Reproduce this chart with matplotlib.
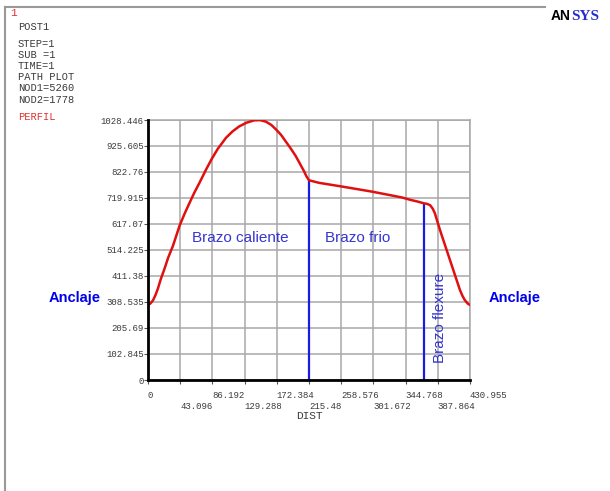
import matplotlib.pyplot as plt
import numpy as np

# path plot data
dist = [0, 3, 6.7, 10, 13.3, 17, 22.2, 27, 33.3, 38, 42.2, 49, 55.5, 62,
        68.9, 77.8, 85.8, 93.3, 104.4, 113, 122, 132, 142, 150, 157.7, 165,
        171, 178, 184, 191, 197.7, 204, 208.8, 212, 215.48, 228.8, 260, 300,
        340, 350.6, 362, 369, 373, 377.4, 381, 384, 390.8, 399.7, 408.6,
        417.5, 421, 424, 428, 430.955]
perfil = [298, 302, 315, 336, 362, 398, 441, 484, 530, 572, 610, 658, 700,
          741, 780, 833, 877, 914, 958, 983, 1003, 1018, 1027, 1028, 1022,
          1009, 992, 970, 945, 916, 886, 852, 826, 806, 790, 780, 765, 745,
          722, 713, 705, 699, 697, 692, 678, 659, 593, 514, 435, 356, 332,
          316, 302, 297]

arm_x = [215.48, 369.0]
arm_top = [790, 699]

xticks = [0, 43.096, 86.192, 129.288, 172.384, 215.48, 258.576, 301.672,
          344.768, 387.864, 430.955]
xlabels = ['0', '43.096', '86.192', '129.288', '172.384', '215.48',
           '258.576', '301.672', '344.768', '387.864', '430.955']
yticks = [0, 102.845, 205.69, 308.535, 411.38, 514.225, 617.07, 719.915,
          822.76, 925.605, 1028.446]
ylabels = ['0', '102.845', '205.69', '308.535', '411.38', '514.225',
           '617.07', '719.915', '822.76', '925.605', '1028.446']

info = ['POST1', '', 'STEP=1', 'SUB =1', 'TIME=1', 'PATH PLOT',
        'NOD1=5260', 'NOD2=1778']

mono = 'Liberation Mono'
tick_col = '#3a3a3a'

fig = plt.figure(figsize=(6.1, 4.91), dpi=100)
ax = fig.add_axes([148/610, 111/491, 322/610, 260/491])

ax.plot(dist, perfil, color='#e01010', lw=1.8, zorder=4)
ax.vlines(arm_x, 0, arm_top, color='#1a1ae0', lw=1.6, zorder=3)

ax.set_xlim(0, 430.955)
ax.set_ylim(0, 1028.446)
ax.set_xticks(xticks)
ax.set_yticks(yticks)
ax.set_xticklabels(xlabels, ha='left', family=mono, fontsize=6.5,
                   color=tick_col)
ax.set_yticklabels(ylabels, family=mono, fontsize=6.5, color=tick_col)
ax.tick_params(axis='x', length=3, pad=5, color='#555555')
ax.tick_params(axis='y', length=3, pad=0, color='#555555')
# staggered x labels: odd ones on a second row
for tk in ax.xaxis.get_major_ticks()[1::2]:
    tk.set_pad(13)
ax.grid(True, color='#a8a8a8', lw=1.1)
ax.set_axisbelow(True)
for s in ['left', 'bottom']:
    ax.spines[s].set_linewidth(2)
    ax.spines[s].set_color('black')
    ax.spines[s].set_zorder(5)
for s in ['top', 'right']:
    ax.spines[s].set_color('#a8a8a8')
    ax.spines[s].set_linewidth(1.1)
ax.set_xlabel('DIST', family=mono, fontsize=8, color=tick_col, labelpad=0)

# region labels
ax.text(123, 562, 'Brazo caliente', color='#3535d0', fontsize=11,
        family='Liberation Sans', ha='center', va='center')
ax.text(281, 562, 'Brazo frio', color='#3535d0', fontsize=11,
        family='Liberation Sans', ha='center', va='center')
ax.text(391, 245, 'Brazo flexure', color='#3535d0', fontsize=11,
        family='Liberation Sans', ha='center', va='center', rotation=90)

fig.text(75/610, 1 - 298/491, 'Anclaje', color='#0000ee', fontsize=10.5,
         weight='bold', family='Liberation Sans', ha='center', va='center')
fig.text(515/610, 1 - 298/491, 'Anclaje', color='#0000ee', fontsize=10.5,
         weight='bold', family='Liberation Sans', ha='center', va='center')

# header text block
fig.text(10/610, 1 - 13/491, '1', color='#e03030', fontsize=8,
         family=mono, va='center')
ys = [27, 38, 44, 55, 66, 77, 88, 100]
for t, y in zip(info, ys):
    if t:
        fig.text(18/610, 1 - y/491, t, family=mono, fontsize=7.5,
                 color=tick_col, va='center')
fig.text(18/610, 1 - 117/491, 'PERFIL', family=mono, fontsize=7.5,
         color='#e03030', va='center')

# frame and logo
fig.add_artist(plt.Line2D([5/610, 5/610], [0, 1 - 7/491], color='#999999',
                          lw=1.5, transform=fig.transFigure))
fig.add_artist(plt.Line2D([5/610, 545/610], [1 - 7/491, 1 - 7/491],
                          color='#999999', lw=1.5, transform=fig.transFigure))
fig.text(551/610, 1 - 16/491, 'AN', family='Liberation Sans', weight='bold',
         fontsize=10, color='black', va='center')
fig.text(571/610, 1 - 16/491, 'SYS', family='Liberation Serif', weight='bold',
         fontsize=11, color='#2a2ad0', va='center')

fig.savefig('out.png', dpi=100)
